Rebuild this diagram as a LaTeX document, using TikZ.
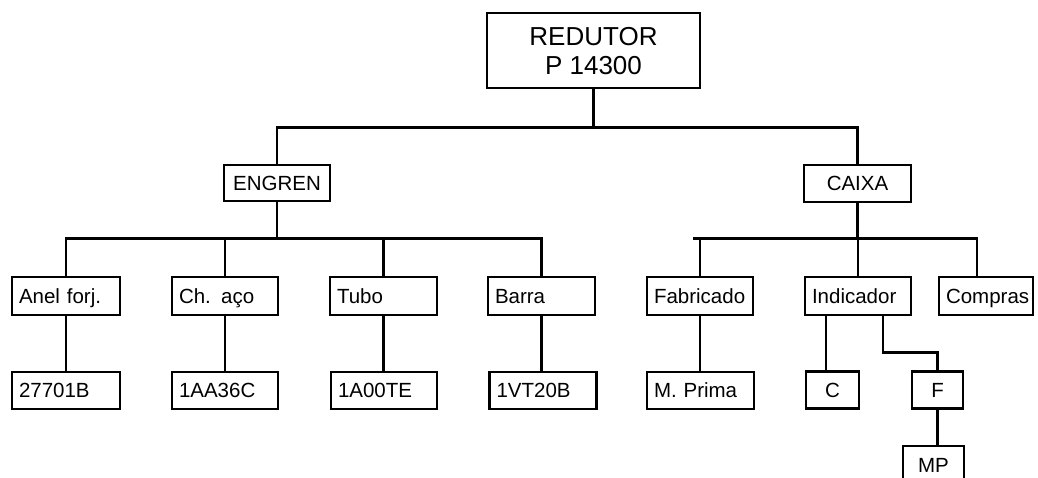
\documentclass[tikz,border=0pt]{standalone}
\usepackage{fontspec}
\setmainfont{Liberation Sans}
\begin{document}
\begin{tikzpicture}[x=1pt,y=-1pt,
  every node/.style={draw, line width=2.8pt, inner sep=0pt,
    font=\fontsize{20.5}{24}\selectfont, text height=14.7pt, text depth=0pt},
  cbox/.style={minimum width=#1, minimum height=37pt, align=center},
  lbox/.style={text width=#1, minimum height=38pt, inner xsep=7pt, align=left},
  conn/.style={line width=2.8pt, line join=miter}]
\fill[white] (0,0) rectangle (1038,477);
\useasboundingbox (0,0) rectangle (1038,477);

% top
\node[cbox=213pt, minimum height=75pt, font=\fontsize{26}{29.5}\selectfont,
      text height=48.1pt, text depth=0pt] (red) at (593.5,50.5) {REDUTOR\\P 14300};

% level 1
\node[cbox=106pt, minimum height=36pt] (eng) at (277,183) {ENGREN};
\node[cbox=107pt] (cai) at (857.5,183.5) {CAIXA};

% level 2
\node[lbox=94pt] (anel) at (66,296) {Anel forj.};
\node[lbox=92pt] (ch) at (225,296) {Ch. aço};
\node[lbox=93pt] (tubo) at (383.5,296) {Tubo};
\node[lbox=93pt] (barra) at (541.5,296) {Barra};
\node[lbox=92pt] (fab) at (700,296) {Fabricado};
\node[lbox=92pt] (ind) at (858,296) {Indicador};
\node[lbox=80pt] (comp) at (986,296) {\mbox{Compras}};

% level 3
\node[lbox=94pt, minimum height=37pt] (g1) at (66,390.5) {27701B};
\node[lbox=92pt, minimum height=37pt] (g2) at (225,390.5) {1AA36C};
\node[lbox=92pt, minimum height=37pt] (g3) at (384,390.5) {1A00TE};
\node[lbox=93pt, minimum height=37pt] (g4) at (543,390.5) {1VT20B};
\node[lbox=93pt, minimum height=37pt] (mpr) at (700.5,390.5) {M. Prima};
\node[cbox=53pt] (c) at (832.5,390) {C};
\node[cbox=51pt] (f) at (937.5,390) {F};
\node[cbox=61pt, minimum height=38pt] (mp) at (933.5,465) {MP};

% connectors
\draw[conn] (red.south) -- ++(0,38) coordinate (b0);
\draw[conn] (eng.north) |- (b0) -| (cai.north);

\draw[conn] (eng.south) -- ++(0,36) coordinate (b1);
\draw[conn] (anel.north) |- (b1) -| (barra.north);
\draw[conn] (ch.north) -- (ch.north |- b1);
\draw[conn] (tubo.north) -- (tubo.north |- b1);

\draw[conn] (cai.south) -- ++(0,35) coordinate (b2);
\draw[conn] (fab.north) |- (b2) -| ([xshift=-9pt]comp.north);
\draw[conn] (fab.north |- b2) -- ++(-7,0);
\draw[conn] (ind.north) -- (ind.north |- b2);

\draw[conn] (anel.south) -- (anel.south |- g1.north);
\draw[conn] (ch.south) -- (ch.south |- g2.north);
\draw[conn] (tubo.south) -- (tubo.south |- g3.north);
\draw[conn] (barra.south) -- (barra.south |- g4.north);
\draw[conn] (fab.south) -- (fab.south |- mpr.north);
\draw[conn] ([xshift=-32pt]ind.south) -- ([xshift=-32pt]ind.south |- c.north);
\draw[conn] ([xshift=25pt]ind.south) -- ++(0,36) -| (f.north);
\draw[conn] (f.south) -- (f.south |- mp.north);
\end{tikzpicture}
\end{document}
